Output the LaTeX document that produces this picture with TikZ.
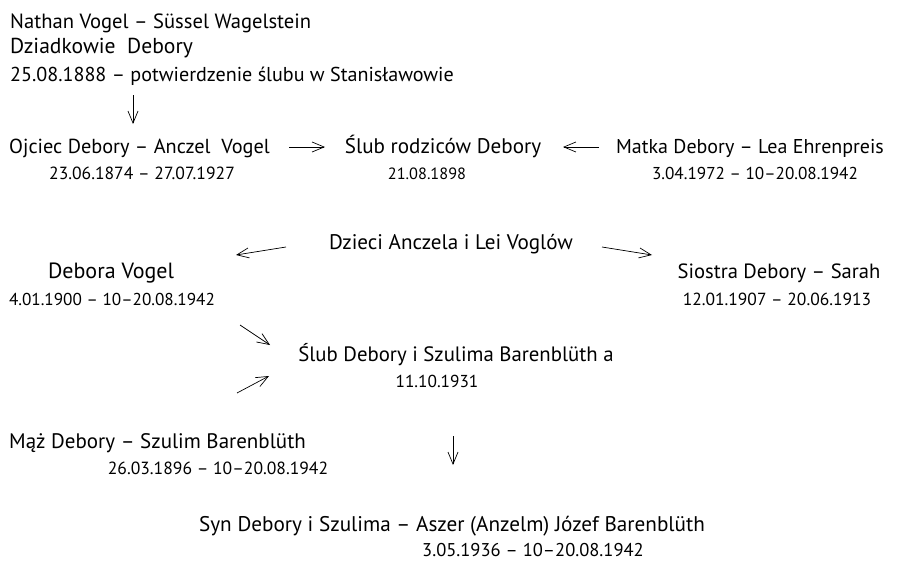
\documentclass[tikz,border=0pt]{standalone}
\usepackage{fontspec}
\setmainfont{PT Sans}
\usetikzlibrary{arrows.meta}
\newcommand{\fs}[1]{\fontsize{#1}{#1}\selectfont}
\begin{document}
\begin{tikzpicture}[x=1pt,y=-1pt,
  txt/.style={inner sep=0pt,anchor=base},
  arr/.style={line width=0.7pt,-{Straight Barb[length=12pt,width=10pt,line width=0.7pt]}}]
\useasboundingbox (0,0) rectangle (897,562);
% grandparents
\node[txt,anchor=base west,font=\fs{20.6}] (gp1) at (10,28) {Nathan Vogel – Süssel Wagelstein};
\node[txt,anchor=base west,font=\fs{21.6}] (gp2) at (10,53) {Dziadkowie\ \ Debory};
\node[txt,anchor=base west,font=\fs{20.1}] (gp3) at (10,81) {25.08.1888 – potwierdzenie ślubu w Stanisławowie};
\coordinate (a1s) at (133,95);
\coordinate (a1e) at (133,124);
% parents
\node[txt,anchor=base west,font=\fs{20.3}] (fa) at (9,153) {Ojciec Debory – Anczel\ \ Vogel};
\node[txt,font=\fs{17.6}] (fad) at (142,179) {23.06.1874 – 27.07.1927};
\node[txt,font=\fs{21.1}] (pw) at (443,153) {Ślub rodziców Debory};
\node[txt,font=\fs{16.3}] (pwd) at (427,179) {21.08.1898};
\node[txt,font=\fs{20}] (mo) at (750,153) {Matka Debory – Lea Ehrenpreis};
\node[txt,font=\fs{17.2}] (mod) at (755,179) {3.04.1972 – 10–20.08.1942};
\coordinate (a2s) at (289,147);
\coordinate (a2e) at (325,147);
\coordinate (a3s) at (599,147);
\coordinate (a3e) at (563,147);
% children
\node[txt,font=\fs{21.1}] (ch) at (451,249) {Dzieci Anczela i Lei Voglów};
\node[txt,font=\fs{22}] (deb) at (111,278) {Debora Vogel};
\node[txt,font=\fs{17.2}] (debd) at (112,305) {4.01.1900 – 10–20.08.1942};
\node[txt,font=\fs{20.6}] (sis) at (779,278) {Siostra Debory – Sarah};
\node[txt,font=\fs{17.5}] (sisd) at (777,305) {12.01.1907 – 20.06.1913};
\coordinate (a4s) at (286,247);
\coordinate (a4e) at (236,255);
\coordinate (a5s) at (602,247);
\coordinate (a5e) at (652,255);
% marriage
\node[txt,font=\fs{20.8}] (mw) at (456,361) {Ślub Debory i Szulima Barenblüth a};
\node[txt,font=\fs{17.3}] (mwd) at (437,387) {11.10.1931};
\coordinate (a6s) at (240,325);
\coordinate (a6e) at (270,345);
\coordinate (a7s) at (237,393);
\coordinate (a7e) at (269,376);
\node[txt,anchor=base west,font=\fs{21}] (hu) at (9,448) {Mąż Debory – Szulim Barenblüth};
\node[txt,font=\fs{17.6}] (hud) at (218,474) {26.03.1896 – 10–20.08.1942};
\coordinate (a8s) at (453,436);
\coordinate (a8e) at (453,465);
% son
\node[txt,font=\fs{21.2}] (son) at (452,531) {Syn Debory i Szulima – Aszer (Anzelm) Józef Barenblüth};
\node[txt,font=\fs{18.5}] (sond) at (533,556) {3.05.1936 – 10–20.08.1942};
% arrows
\draw[arr] (a1s) -- (a1e);
\draw[arr] (a2s) -- (a2e);
\draw[arr] (a3s) -- (a3e);
\draw[arr] (a4s) -- (a4e);
\draw[arr] (a5s) -- (a5e);
\draw[arr] (a6s) -- (a6e);
\draw[arr] (a7s) -- (a7e);
\draw[arr] (a8s) -- (a8e);
\end{tikzpicture}
\end{document}
